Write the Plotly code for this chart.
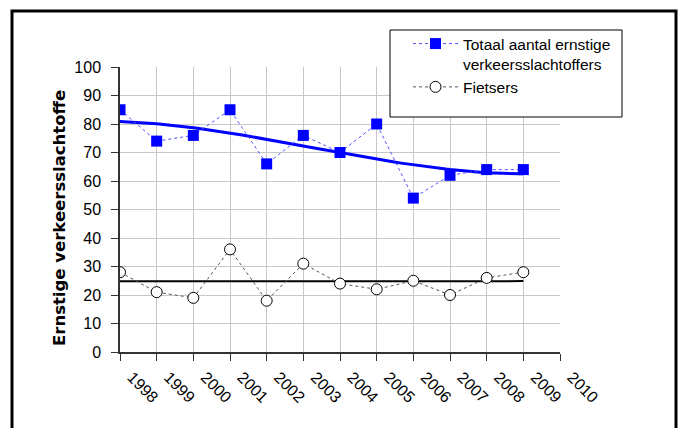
import numpy as np
import plotly.graph_objects as go

years = [1998, 1999, 2000, 2001, 2002, 2003, 2004, 2005, 2006, 2007, 2008, 2009]
tick_years = [1998, 1999, 2000, 2001, 2002, 2003, 2004, 2005, 2006, 2007, 2008, 2009, 2010]
totaal = [85, 74, 76, 85, 66, 76, 70, 80, 54, 62, 64, 64]
fietsers = [28, 21, 19, 36, 18, 31, 24, 22, 25, 20, 26, 28]
y_ticks = [0, 10, 20, 30, 40, 50, 60, 70, 80, 90, 100]

FONT = "Liberation Sans, Arial, sans-serif"

# Trendlines derived from the data (as the spreadsheet would)
xs = np.array(years, dtype=float)
xf = np.linspace(xs[0], xs[-1], 100)
p3 = np.polyfit(xs - xs[0], np.array(totaal, float), 3)
trend_tot = np.polyval(p3, xf - xs[0])
p1 = np.polyfit(xs - xs[0], np.array(fietsers, float), 1)
trend_fiets = np.polyval(p1, xf - xs[0])

fig = go.Figure()
fig.add_trace(go.Scatter(x=xf, y=trend_tot, mode="lines",
                         line=dict(color="#0000FF", width=3), showlegend=False, hoverinfo="skip"))
fig.add_trace(go.Scatter(x=xf, y=trend_fiets, mode="lines",
                         line=dict(color="#000000", width=2), showlegend=False, hoverinfo="skip"))
fig.add_trace(go.Scatter(x=years, y=totaal, mode="lines+markers",
                         name="Totaal aantal ernstige<br>verkeersslachtoffers",
                         line=dict(color="#5050FF", width=1, dash="dot"),
                         marker=dict(symbol="square", size=11, color="#0000FF",
                                     line=dict(color="#0000FF", width=0))))
fig.add_trace(go.Scatter(x=years, y=fietsers, mode="lines+markers",
                         name="Fietsers",
                         line=dict(color="#555555", width=1, dash="dot"),
                         marker=dict(symbol="circle", size=11, color="white",
                                     line=dict(color="black", width=1))))

L, R, T, B = 120, 120, 67, 76
PW, PH = 680 - L - R, 428 - T - B

def px(xp):
    return (xp - L) / PW

def py(yp):
    return (428 - B - yp) / PH

fig.update_layout(
    width=680, height=428,
    margin=dict(l=L, r=R, t=T, b=B),
    paper_bgcolor="white", plot_bgcolor="white",
    font=dict(family=FONT, size=15, color="black"),
    showlegend=True,
    legend=dict(x=px(408), y=py(27), xanchor="left", yanchor="top",
                bgcolor="rgba(0,0,0,0)", borderwidth=0, valign="top",
                font=dict(family=FONT, size=15.5, color="black"),
                tracegroupgap=0, itemwidth=45),
    xaxis=dict(range=[1998, 2010], tickmode="array", tickvals=tick_years,
               ticktext=[str(y) for y in tick_years], tickangle=45,
               showgrid=True, gridcolor="#C8C8C8", gridwidth=1,
               showline=True, linecolor="#333333", linewidth=1.5,
               ticks="outside", ticklen=7, tickcolor="#333333",
               ticklabelshift=12, ticklabelstandoff=1,
               tickfont=dict(family=FONT, size=16), zeroline=False),
    yaxis=dict(range=[0, 100], tickmode="array", tickvals=y_ticks,
               showgrid=True, gridcolor="#C8C8C8", gridwidth=1,
               showline=True, linecolor="#333333", linewidth=1.5,
               ticks="outside", ticklen=7, tickcolor="#333333",
               ticklabelstandoff=7,
               tickfont=dict(family=FONT, size=16), zeroline=False),
    shapes=[
        dict(type="rect", xref="paper", yref="paper",
             x0=px(390), x1=px(622), y0=py(117), y1=py(30),
             line=dict(color="black", width=1), fillcolor="white", layer="above"),
        dict(type="rect", xref="paper", yref="paper",
             x0=px(12), x1=px(676), y0=py(445), y1=py(11),
             line=dict(color="black", width=3), fillcolor="rgba(0,0,0,0)"),
    ],
    annotations=[
        dict(text="<b>Ernstige verkeersslachtoffe</b>", xref="paper", yref="paper",
             x=px(59), y=py(218), textangle=-90, showarrow=False,
             font=dict(family="DejaVu Sans, sans-serif", size=16.5, color="black"),
             xanchor="center", yanchor="middle"),
    ],
)

fig.write_html("out.html", config={"displayModeBar": False},
               post_script="document.body.style.margin='0';")
